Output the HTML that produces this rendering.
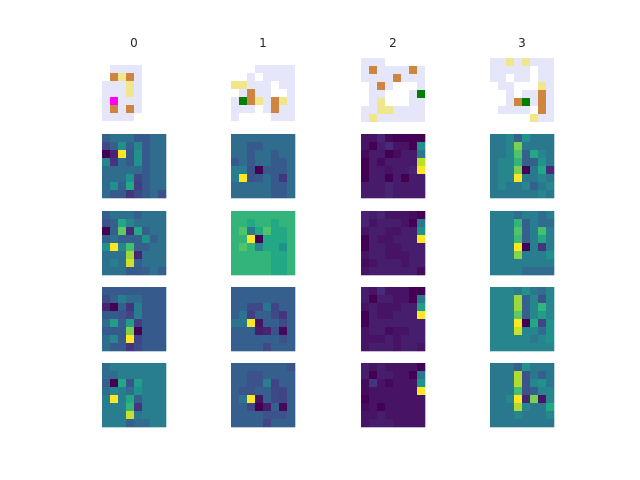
<!DOCTYPE html>
<html><head><meta charset="utf-8"><style>
html,body{margin:0;padding:0;background:#fff;}
svg{display:block;}
text{font-family:"DejaVu Sans","Liberation Sans",sans-serif;font-size:12px;fill:#262626;}
</style></head><body>
<svg id="fig" width="640" height="480" viewBox="0 0 640 480"></svg>
<script>
const titles = ["0","1","2","3"];
const catColors = ["#ffffff","#e6e6fa","#f0e68c","#cd853f","#008000","#ff00ff"];
// 0 white,1 lavender,2 khaki,3 peru,4 green,5 magenta
const grid0 = [[0,0,0,0,0,0,0,0],[0,1,1,1,1,0,0,0],[0,3,2,3,1,0,0,0],[1,1,1,2,1,0,0,0],[1,1,1,2,1,0,0,0],[1,5,1,1,1,0,0,0],[1,3,1,3,1,0,0,0],[1,1,1,1,0,0,0,0]];
const grid1 = [[0,0,0,0,0,0,0,0],[0,0,0,1,1,1,1,1],[0,0,1,0,1,1,1,1],[2,2,1,1,1,0,1,1],[0,1,3,1,1,0,0,1],[1,4,3,2,1,3,2,1],[1,1,1,0,1,3,1,1],[1,0,0,0,0,1,1,1]];
const grid2 = [[1,1,1,0,0,0,0,0],[1,3,1,1,1,1,3,1],[1,1,1,1,3,1,1,1],[0,1,3,1,0,0,0,1],[0,1,1,0,0,0,1,4],[0,1,2,0,0,0,1,1],[1,1,2,2,1,1,1,1],[1,2,1,1,1,1,1,1]];
const grid3 = [[1,1,2,1,2,1,1,1],[1,1,1,1,1,0,1,1],[1,1,0,1,1,0,1,1],[0,1,1,0,0,0,2,1],[0,0,1,0,1,1,3,1],[0,0,1,3,4,1,3,1],[0,1,1,1,1,0,3,1],[0,0,0,0,0,2,1,1]];
const catGrids = [grid0,grid1,grid2,grid3];
const catY = [57,57,58,58];

const h10=[[.3,.37,.37,.37,.28,.28,.35,.35],[.22,.3,.5,.3,.45,.28,.35,.35],[0,.1,1,.28,.5,.28,.35,.35],[.45,.15,.35,.28,.5,.28,.35,.35],[.35,.35,.35,.35,.35,.28,.35,.35],[.35,.35,.35,.5,.2,.28,.35,.35],[.35,.5,.3,.6,.18,.28,.35,.35],[.35,.28,.28,.15,.22,.28,.35,.25]];
const h11=[[.35,.35,.35,.35,.35,.35,.35,.35],[.35,.35,.28,.28,.35,.35,.35,.35],[.35,.35,.28,.35,.35,.28,.35,.35],[.28,.35,.28,.35,.35,.28,.28,.35],[.42,.42,.25,0,.28,.28,.28,.35],[.42,1,.25,.28,.35,.28,.15,.35],[.35,.35,.35,.35,.35,.28,.28,.35],[.35,.35,.35,.35,.35,.28,.28,.35]];
const h12=[[.05,.05,.1,.02,0,0,0,0],[.05,0,.08,.12,.05,.05,0,.5],[.03,.07,.07,0,.03,.07,.07,.4],[0,.07,.03,.07,.07,.07,.07,.9],[0,.07,.07,.05,.07,.07,.1,1],[0,.07,.07,0,.07,0,.07,.07],[.07,.07,.07,.1,.07,.07,.07,.07],[.07,.07,.07,.1,.07,.07,.07,.07]];
const h13=[[.4,.4,.45,.3,.5,.4,.4,.4],[.4,.4,.45,.8,.4,.4,.4,.4],[.4,.4,.45,.72,.3,.6,.45,.4],[.4,.45,.45,.65,.3,.3,.5,.4],[.4,.45,.45,.8,0,.4,.6,.12],[.4,.45,.45,1,.4,.4,.45,.4],[.4,.45,.4,.4,.45,.3,.4,.45],[.4,.4,.4,.4,.4,.4,.45,.4]];
const h20=[[.3,.37,.37,.37,.3,.37,.37,.37],[.25,.3,.6,.45,.37,.37,.37,.37],[0,.3,.75,.12,.6,.3,.37,.37],[.3,.37,.3,.3,.3,.5,.3,.37],[.5,1,.45,.7,.3,.3,.37,.37],[.37,.37,.37,.85,.1,.37,.37,.37],[.37,.42,.37,.93,.3,.37,.37,.37],[.37,.37,.37,.28,.28,.3,.37,.3]];
const h21=[[.65,.65,.65,.65,.65,.65,.65,.65],[.65,.65,.6,.65,.65,.6,.65,.65],[.65,.72,.4,.6,.72,.6,.6,.65],[.65,.65,1,0,.6,.6,.6,.65],[.65,.72,.65,.45,.6,.6,.5,.65],[.65,.65,.65,.65,.65,.6,.6,.65],[.65,.65,.65,.65,.65,.6,.6,.65],[.65,.65,.65,.65,.65,.6,.6,.65]];
const h22=[[.1,.08,.1,.05,.05,.05,.03,0],[.1,.05,.08,.08,.08,.05,0,.4],[.05,.08,.08,.05,.05,.08,.08,.5],[0,.08,.05,.05,.08,.08,.08,1],[0,.08,.08,.05,.05,.08,.08,.08],[.05,.08,.08,.05,.05,.05,.08,.08],[.03,.05,.08,.08,.08,.05,.08,.08],[.05,.08,.08,.08,.08,.08,.08,.03]];
const h23=[[.42,.42,.42,.35,.42,.42,.35,.42],[.42,.42,.42,.65,.3,.42,.35,.35],[.42,.42,.42,.72,.3,.42,.7,.42],[.42,.42,.42,.68,.3,.42,.6,.42],[.42,.42,.42,1,0,.42,.15,.42],[.42,.42,.42,.82,.42,.42,.42,.5],[.42,.42,.42,.42,.42,.42,.42,.42],[.42,.42,.42,.42,.35,.35,.35,.35]];
const h30=[[.28,.28,.28,.28,.28,.28,.28,.28],[.22,.3,.42,.35,.35,.28,.28,.28],[.1,0,.3,.15,.42,.28,.28,.28],[.28,.28,.25,.2,.42,.28,.28,.28],[.35,.55,.3,.55,.18,.28,.28,.28],[.28,.28,.28,.8,0,.28,.28,.28],[.35,.45,.28,1,.2,.28,.28,.28],[.35,.28,.28,.15,.22,.28,.28,.28]];
const h31=[[.3,.3,.3,.3,.3,.3,.3,.3],[.3,.3,.3,.3,.3,.3,.3,.3],[.3,.3,.22,.22,.38,.2,.3,.3],[.3,.38,.18,.3,.3,.22,.15,.3],[.38,.38,1,.05,.3,.3,.22,.3],[.3,.3,.3,.08,.1,.25,.02,.3],[.3,.3,.3,.3,.3,.3,.25,.3],[.3,.3,.3,.3,.22,.3,.3,.3]];
const h32=[[.08,.05,.12,.05,.05,.05,0,0],[.08,0,.08,.08,.05,.05,0,.4],[.05,.08,.05,.05,.05,.08,.08,.55],[0,.08,.05,.05,.08,.08,.08,1],[0,.08,.08,.08,.08,.08,.08,.08],[.05,.08,.08,.03,.05,.05,.08,.08],[.05,.05,.05,.08,.05,.08,.08,.08],[.05,.08,.08,.08,.05,.08,.08,.05]];
const h33=[[.45,.45,.45,.4,.5,.4,.35,.45],[.45,.45,.45,.85,.3,.45,.25,.45],[.45,.45,.45,.85,.3,.45,.65,.45],[.45,.45,.45,.75,.3,.45,.55,.45],[.45,.45,.45,1,0,.6,.2,.5],[.45,.45,.45,.92,.45,.45,.35,.5],[.45,.45,.45,.45,.45,.4,.45,.5],[.45,.45,.45,.45,.45,.45,.45,.45]];
const h40=[[.35,.42,.42,.42,.42,.42,.42,.42],[.35,.35,.42,.42,.42,.42,.42,.42],[.3,0,.6,.25,.55,.42,.42,.42],[.35,.45,.42,.35,.5,.42,.42,.42],[.42,1,.42,.6,.3,.42,.42,.42],[.42,.42,.42,.65,.15,.42,.42,.42],[.42,.42,.42,.92,.4,.42,.42,.42],[.42,.42,.42,.3,.35,.35,.42,.42]];
const h41=[[.3,.3,.3,.3,.3,.3,.3,.25],[.3,.3,.25,.25,.3,.3,.3,.3],[.3,.3,.25,.25,.42,.2,.3,.3],[.3,.25,.25,.3,.3,.22,.2,.3],[.3,.38,1,.05,.3,.22,.2,.3],[.3,.3,.22,0,.08,.3,.02,.3],[.3,.3,.3,.3,.25,.25,.25,.3],[.3,.3,.3,.3,.2,.3,.3,.3]];
const h42=[[.08,.05,.08,.05,.05,.05,.05,0],[.08,0,.08,.08,.05,.05,0,.4],[.03,.15,.05,.02,.05,.05,.05,.5],[.03,.05,.05,.05,.05,.05,.05,1],[0,.05,.05,.05,.05,.05,.05,.05],[.03,.05,0,.05,.05,.05,.05,.05],[.05,.05,.08,.05,.05,.05,.05,.05],[.05,.08,.08,.08,.05,.05,.05,.05]];
const h43=[[.4,.4,.4,.3,.5,.4,.4,.4],[.4,.4,.4,.88,.25,.4,.3,.4],[.4,.4,.4,.88,.25,.45,.5,.4],[.4,.4,.4,.7,.25,.3,.45,.45],[.4,.4,.45,1,.1,.8,.05,.45],[.4,.4,.4,.88,.45,.4,.4,.6],[.4,.4,.4,.45,.4,.4,.4,.45],[.4,.4,.4,.4,.4,.4,.4,.4]];
const heatRows = [[h10,h11,h12,h13],[h20,h21,h22,h23],[h30,h31,h32,h33],[h40,h41,h42,h43]];

const colX = [102,231,361,490];
const rowY = [134,211,287,363];
const CELL = 8;
const vir = ["#440154","#482475","#414487","#355f8d","#2a788e","#21918c","#22a884","#44bf70","#7ad151","#bddf26","#fde725"];
function hex(h){return [1,3,5].map(i=>parseInt(h.substr(i,2),16));}
function viridis(v){v=Math.max(0,Math.min(1,v));const p=v*10,i=Math.min(9,Math.floor(p)),f=p-i;const a=hex(vir[i]),b=hex(vir[i+1]);return "rgb("+a.map((c,k)=>Math.round(c+(b[k]-c)*f)).join(",")+")";}
const NS="http://www.w3.org/2000/svg";
const svg=document.getElementById('fig');
function el(t,attrs,parent){const e=document.createElementNS(NS,t);for(const k in attrs)e.setAttribute(k,attrs[k]);(parent||svg).appendChild(e);return e;}

titles.forEach((t,c)=>{
  const tx=el('text',{x:colX[c]+32,y:47,'text-anchor':'middle'});
  
  
  tx.textContent=t;
});
catGrids.forEach((g,c)=>{
  const grp=el('g',{});
  
  
  g.forEach((row,r)=>row.forEach((v,k)=>{
    const re=el('rect',{x:colX[c]+k*CELL,y:catY[c]+r*CELL,width:CELL,height:CELL,fill:catColors[v]},grp);
    
    
  }));
});
heatRows.forEach((rowMaps,ri)=>rowMaps.forEach((g,c)=>{
  const grp=el('g',{});
  
  
  g.forEach((row,r)=>row.forEach((v,k)=>{
    const re=el('rect',{x:colX[c]+k*CELL,y:rowY[ri]+r*CELL,width:CELL+0.3,height:CELL+0.3,fill:viridis(v)},grp);
    
    
  }));
}));
</script>
</body></html>
